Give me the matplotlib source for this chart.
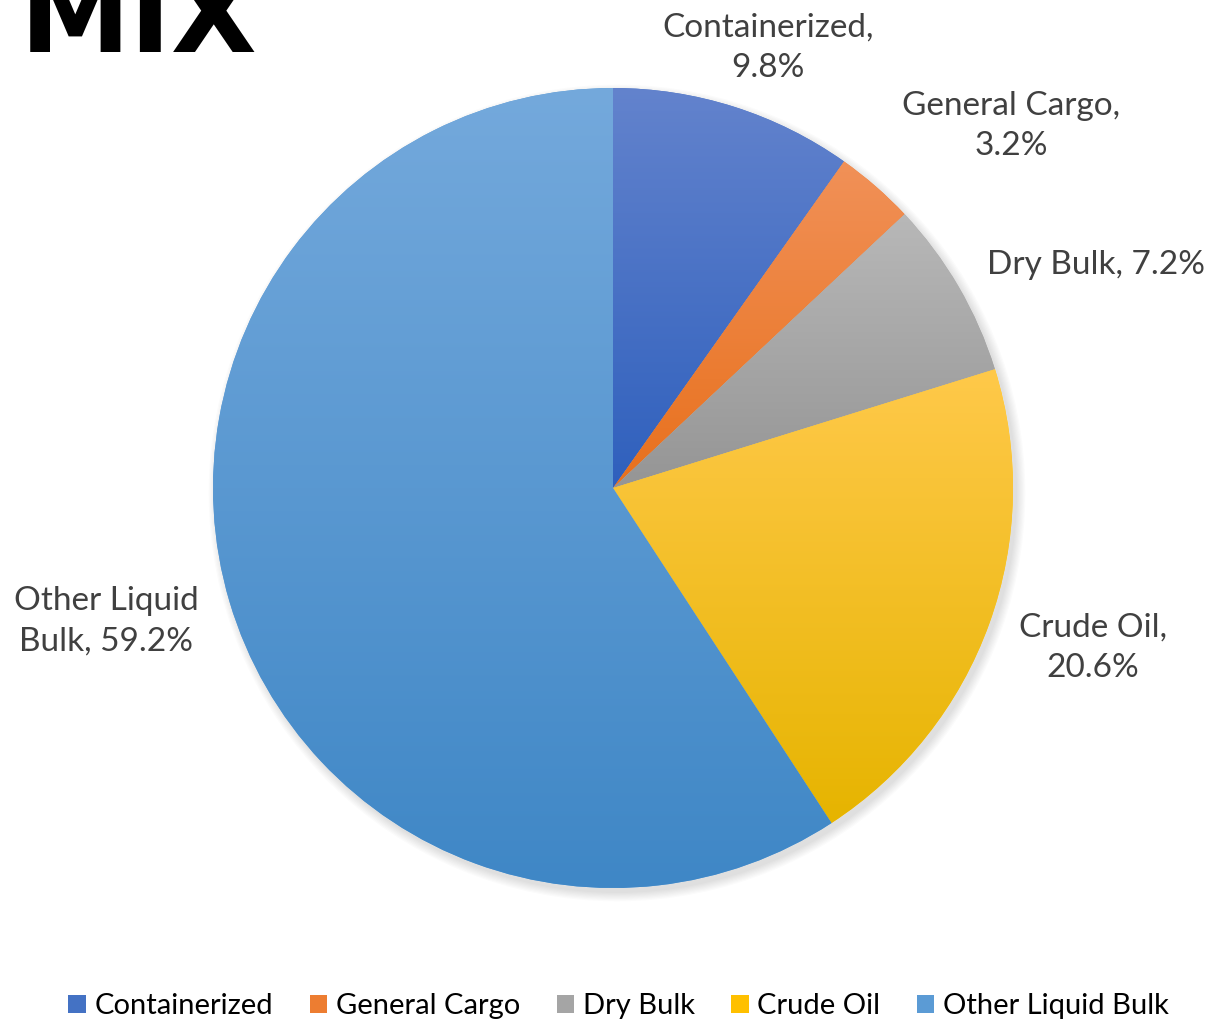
import numpy as np
import matplotlib
matplotlib.use("Agg")
import matplotlib.pyplot as plt
from matplotlib.colors import to_rgb
from matplotlib.patches import Patch, Circle

# ---- data ----
categories = ["Containerized", "General Cargo", "Dry Bulk", "Crude Oil", "Other Liquid Bulk"]
shares = [9.8, 3.2, 7.2, 20.6, 59.2]
label_texts = ["Containerized,\n9.8%", "General Cargo,\n3.2%", "Dry Bulk, 7.2%",
               "Crude Oil,\n20.6%", "Other Liquid\nBulk, 59.2%"]
base_colors = ["#4472C4", "#ED7D31", "#A5A5A5", "#FFC000", "#5B9BD5"]
top_colors = ["#6383CD", "#F19158", "#B8B8B8", "#FFC94A", "#74A9DC"]
bottom_colors = ["#2F60BD", "#E8701C", "#959595", "#E6B400", "#3F87C6"]

W, H = 1213, 1021
fig = plt.figure(figsize=(W / 100, H / 100), dpi=100)
ax = fig.add_axes([0, 0, 1, 1])

cx, cy, r = 613, H - 488, 400

# soft shadow, offset down-right
for i in range(8):
    ax.add_patch(Circle((cx + 4, cy - 5), r + i * 1.2, color="black",
                        alpha=0.016, lw=0, zorder=0))
ax.add_patch(Circle((cx, cy), r, color="white", lw=0, zorder=0.5))

wedges, _ = ax.pie(shares, colors=base_colors, startangle=90, counterclock=False,
                   center=(cx, cy), radius=r, frame=True,
                   wedgeprops=dict(linewidth=0))

# vertical gradient fill inside each slice
for w, c1, c2 in zip(wedges, top_colors, bottom_colors):
    ext = w.get_path().get_extents(w.get_patch_transform())
    t = np.linspace(0, 1, 256)[:, None, None]
    a, b = np.array(to_rgb(c1)), np.array(to_rgb(c2))
    img = a[None, None, :] * (1 - t) + b[None, None, :] * t
    img = np.repeat(img, 2, axis=1)
    im = ax.imshow(img, extent=(ext.x0, ext.x1, ext.y0, ext.y1), origin="upper",
                   aspect="auto", zorder=2, interpolation="bilinear")
    im.set_clip_path(w)

ax.set_xlim(0, W)
ax.set_ylim(0, H)
ax.set_aspect("equal")
ax.axis("off")

# data labels
label_pos = [(768, 48), (1011, 126), (1096, 265), (1093, 648), (106, 621)]
for txt, (x, y) in zip(label_texts, label_pos):
    ax.text(x, H - y, txt, ha="center", va="center", fontsize=24,
            family=["Lato", "DejaVu Sans"], color="#404040", linespacing=1.42)

# cut-off title
ax.text(20, H - 52, "MIX", ha="left", va="baseline", fontsize=80,
        family="DejaVu Sans", fontweight="heavy", color="black")

handles = [Patch(facecolor=c, edgecolor="none") for c in base_colors]
fig.legend(handles, categories, loc="lower center", bbox_to_anchor=(0.51, -0.024),
           ncol=5, frameon=False, handlelength=0.6, handleheight=0.6,
           handletextpad=0.3, columnspacing=1.25,
           prop=dict(family=["Lato", "DejaVu Sans"], size=21))

fig.savefig("out.png", dpi=100)
